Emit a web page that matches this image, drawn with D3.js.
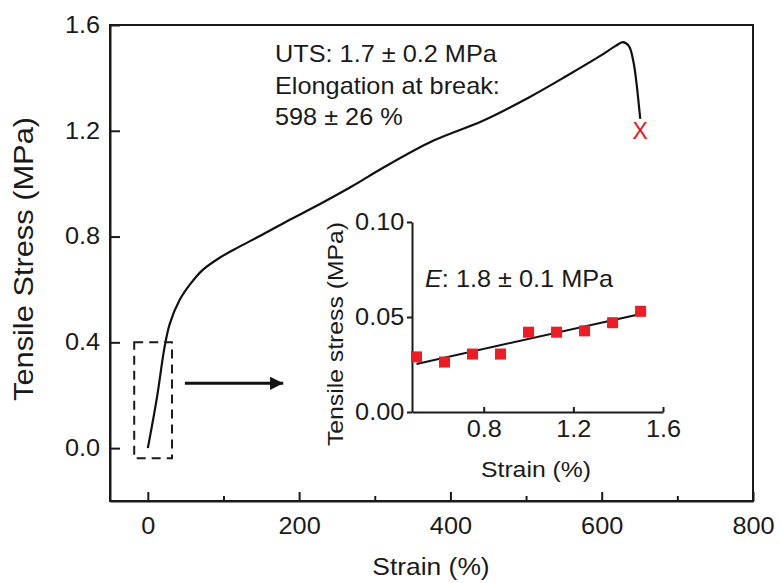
<!DOCTYPE html>
<html>
<head>
<meta charset="utf-8">
<script src="https://cdn.jsdelivr.net/npm/d3@7"></script>
<style>
body { margin: 0; background: #fff; }
svg text { font-family: "Liberation Sans", Arial, sans-serif; fill: #1a1a1a; }
.axis path, .axis line { stroke: #1a1a1a; stroke-width: 2; }
</style>
</head>
<body>
<div id="chart"></div>
<script>
// stress-strain curve
var strain = [0, 12, 22, 29, 42, 56, 73, 95, 120, 150, 184, 227, 270, 311, 377, 443, 505, 554, 598, 618, 628, 636, 642, 646, 649, 651];
var stress = [0, 0.19, 0.38, 0.47, 0.56, 0.62, 0.675, 0.72, 0.76, 0.805, 0.858, 0.922, 0.99, 1.06, 1.162, 1.238, 1.328, 1.408, 1.483, 1.52, 1.535, 1.52, 1.46, 1.38, 1.30, 1.245];
var breakPoint = [651, 1.2];

var xTicks = [0, 200, 400, 600, 800];
var xMinor = [100, 300, 500, 700];
var yTicks = [0, 0.4, 0.8, 1.2, 1.6];

// inset: linear region
var insetStrain = [0.5, 0.625, 0.75, 0.875, 1.0, 1.125, 1.25, 1.375, 1.5];
var insetStress = [0.029, 0.0263, 0.0305, 0.0305, 0.042, 0.042, 0.0427, 0.047, 0.053];
var fitStrain = [0.5, 1.5];
var fitStress = [0.0253, 0.0516];
var insetXTicks = [0.8, 1.2, 1.6];
var insetYTicks = [0, 0.05, 0.1];

// zoom box and arrow (in main chart units)
var boxStrain = [-18, 32];
var boxStress = [-0.038, 0.4];
var arrowStrain = [49, 179];
var arrowStress = 0.245;

var svg = d3.select("#chart").append("svg")
    .attr("width", 781)
    .attr("height", 583);

var x = d3.scaleLinear().domain([-50, 800]).range([110, 753]);
var y = d3.scaleLinear().domain([-0.2, 1.6]).range([501, 25]);

var fs = 23,
    sx = 1.1; // the figure's type runs a little wide

// text placed with a translate so the horizontal stretch doesn't move it
var label = function(px, py, size, str, rot) {
    return svg.append("text")
        .attr("transform", "translate(" + px + "," + py + ")" + (rot ? " rotate(-90)" : "") + " scale(" + sx + ",1)")
        .attr("font-size", size)
        .text(str);
};

var stretchTicks = function(g) {
    g.selectAll("text")
        .attr("font-size", fs)
        .attr("transform", "scale(" + sx + ",1)");
};

// main axes
svg.append("g")
    .attr("class", "axis")
    .attr("transform", "translate(0,501)")
    .call(d3.axisBottom(x).tickValues(xTicks).tickSize(-9).tickSizeOuter(0).tickPadding(17).tickFormat(d3.format("d")))
    .call(stretchTicks);

svg.append("g")
    .attr("class", "axis")
    .attr("transform", "translate(0,501)")
    .call(d3.axisBottom(x).tickValues(xMinor).tickSize(-5).tickSizeOuter(0).tickFormat(""))
    .select(".domain").remove();

svg.append("g")
    .attr("class", "axis")
    .attr("transform", "translate(110,0)")
    .call(d3.axisLeft(y).tickValues(yTicks).tickSize(-10).tickSizeOuter(0).tickPadding(9).tickFormat(d3.format(".1f")))
    .call(stretchTicks);

// frame
svg.append("rect")
    .attr("x", x.range()[0])
    .attr("y", y.range()[1])
    .attr("width", x.range()[1] - x.range()[0])
    .attr("height", y.range()[0] - y.range()[1])
    .attr("fill", "none")
    .attr("stroke", "#1a1a1a")
    .attr("stroke-width", 2);

label(431, 575, 24, "Strain (%)").attr("text-anchor", "middle");
label(33, 259, 28, "Tensile Stress (MPa)", true).attr("text-anchor", "middle");

// curve
svg.append("path")
    .datum(d3.zip(strain, stress))
    .attr("d", d3.line()
        .x(function(d) { return x(d[0]); })
        .y(function(d) { return y(d[1]); })
        .curve(d3.curveCatmullRom))
    .attr("fill", "none")
    .attr("stroke", "#111")
    .attr("stroke-width", 2.2);

svg.append("text")
    .attr("x", x(breakPoint[0]))
    .attr("y", y(breakPoint[1]))
    .attr("dy", "0.36em")
    .attr("text-anchor", "middle")
    .attr("font-size", 23)
    .style("fill", "#e8141c")
    .text("X");

// annotation
var notes = ["UTS: 1.7 \u00b1 0.2 MPa", "Elongation at break:", "598 \u00b1 26 %"];
notes.forEach(function(d, i) {
    label(275, 62 + i * 31.5, fs, d);
});

// dashed zoom box
svg.append("rect")
    .attr("x", x(boxStrain[0]))
    .attr("y", y(boxStress[1]))
    .attr("width", x(boxStrain[1]) - x(boxStrain[0]))
    .attr("height", y(boxStress[0]) - y(boxStress[1]))
    .attr("fill", "none")
    .attr("stroke", "#1a1a1a")
    .attr("stroke-width", 2)
    .attr("stroke-dasharray", "9,6");

// arrow
svg.append("defs").append("marker")
    .attr("id", "head")
    .attr("viewBox", "0 0 10 10")
    .attr("refX", 10)
    .attr("refY", 5)
    .attr("markerWidth", 7)
    .attr("markerHeight", 4.4)
    .attr("markerUnits", "strokeWidth")
    .attr("orient", "auto")
    .append("path")
    .attr("d", "M0,0L10,5L0,10z")
    .attr("fill", "#111");

svg.append("line")
    .attr("x1", x(arrowStrain[0]))
    .attr("x2", x(arrowStrain[1]))
    .attr("y1", y(arrowStress))
    .attr("y2", y(arrowStress))
    .attr("stroke", "#111")
    .attr("stroke-width", 3)
    .attr("marker-end", "url(#head)");

// inset
var ix = d3.scaleLinear().domain([0.48, 1.6]).range([412, 663]);
var iy = d3.scaleLinear().domain([0, 0.1]).range([412, 222]);

svg.append("g")
    .attr("class", "axis")
    .attr("transform", "translate(0,412)")
    .call(d3.axisBottom(ix).tickValues(insetXTicks).tickSize(-5).tickSizeOuter(0).tickPadding(9).tickFormat(d3.format(".1f")))
    .call(stretchTicks);

svg.append("g")
    .attr("class", "axis")
    .attr("transform", "translate(412,0)")
    .call(d3.axisLeft(iy).tickValues(insetYTicks).tickSize(5).tickSizeOuter(0).tickPadding(2).tickFormat(d3.format(".2f")))
    .call(stretchTicks);

label(536, 477, 22.5, "Strain (%)").attr("text-anchor", "middle");
label(343, 334, 22.5, "Tensile stress (MPa)", true).attr("text-anchor", "middle");

var eLabel = label(425, 287, fs, "");
eLabel.append("tspan").attr("font-style", "italic").text("E");
eLabel.append("tspan").text(": 1.8 \u00b1 0.1 MPa");

svg.append("line")
    .attr("x1", ix(fitStrain[0]))
    .attr("x2", ix(fitStrain[1]))
    .attr("y1", iy(fitStress[0]))
    .attr("y2", iy(fitStress[1]))
    .attr("stroke", "#111")
    .attr("stroke-width", 2);

svg.selectAll(".pt")
    .data(d3.zip(insetStrain, insetStress))
    .enter().append("rect")
    .attr("class", "pt")
    .attr("x", function(d) { return ix(d[0]) - 5.5; })
    .attr("y", function(d) { return iy(d[1]) - 5.5; })
    .attr("width", 11)
    .attr("height", 11)
    .attr("fill", "#ee1c24");
</script>
</body>
</html>
